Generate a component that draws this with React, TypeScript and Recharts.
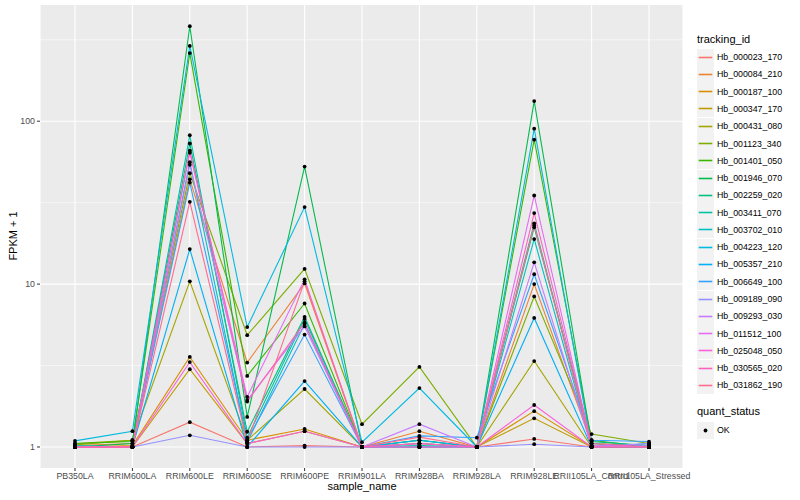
import { LineChart, Line, XAxis, YAxis, CartesianGrid } from "recharts";

const categories = [
  "PB350LA", "RRIM600LA", "RRIM600LE", "RRIM600SE", "RRIM600PE", "RRIM901LA",
  "RRIM928BA", "RRIM928LA", "RRIM928LE", "RRII105LA_Control", "RRII105LA_Stressed",
];

const trackingIds = [
  "Hb_000023_170", "Hb_000084_210", "Hb_000187_100", "Hb_000347_170", "Hb_000431_080",
  "Hb_001123_340", "Hb_001401_050", "Hb_001946_070", "Hb_002259_020", "Hb_003411_070",
  "Hb_003702_010", "Hb_004223_120", "Hb_005357_210", "Hb_006649_100", "Hb_009189_090",
  "Hb_009293_030", "Hb_011512_100", "Hb_025048_050", "Hb_030565_020", "Hb_031862_190",
];

const COLORS = [
  "#F8766D", "#EA8331", "#D89000", "#C09B00", "#A3A500", "#7CAE00", "#39B600",
  "#00BB4E", "#00BF7D", "#00C1A3", "#00BFC4", "#00BAE0", "#00B0F6", "#35A2FF",
  "#9590FF", "#C77CFF", "#E76BF3", "#FA62DB", "#FF62BC", "#FF6C91",
];

// FPKM + 1 per sample, same order as categories
const hb000023 = [1.0, 1.0, 1.42, 1.0, 1.02, 1.0, 1.05, 1.0, 1.12, 1.0, 1.0];
const hb000084 = [1.02, 1.05, 44, 3.3, 10.1, 1.0, 1.25, 1.0, 10, 1.05, 1.02];
const hb000187 = [1.0, 1.02, 3.57, 1.1, 1.29, 1.0, 1.0, 1.0, 1.66, 1.0, 1.0];
const hb000347 = [1.0, 1.0, 3.0, 1.05, 1.25, 1.0, 1.0, 1.0, 1.5, 1.0, 1.0];
const hb000431 = [1.03, 1.1, 10.4, 1.1, 2.27, 1.0, 1.0, 1.0, 3.37, 1.0, 1.0];
const hb001123 = [1.05, 1.1, 48, 4.86, 12.4, 1.38, 3.1, 1.0, 8.4, 1.2, 1.05];
const hb001401 = [1.05, 1.08, 262, 2.73, 7.6, 1.0, 1.1, 1.0, 77, 1.1, 1.0];
const hb001946 = [1.0, 1.05, 383, 1.53, 52.7, 1.0, 1.05, 1.0, 133, 1.05, 1.0];
const hb002259 = [1.0, 1.0, 73, 1.24, 6.3, 1.0, 1.1, 1.0, 22.3, 1.08, 1.02];
const hb003411 = [1.0, 1.0, 82, 1.14, 6.1, 1.0, 1.02, 1.0, 23.6, 1.02, 1.0];
const hb003702 = [1.02, 1.0, 56, 1.07, 5.7, 1.0, 1.0, 1.0, 18.9, 1.0, 1.0];
const hb004223 = [1.09, 1.25, 290, 5.45, 29.7, 1.07, 2.3, 1.0, 90, 1.0, 1.05];
const hb005357 = [1.0, 1.0, 16.4, 1.0, 2.54, 1.0, 1.1, 1.0, 6.2, 1.0, 1.0];
const hb006649 = [1.0, 1.0, 42, 1.1, 4.9, 1.0, 1.17, 1.14, 11.5, 1.1, 1.08];
const hb009189 = [1.0, 1.0, 1.18, 1.0, 1.0, 1.0, 1.0, 1.0, 1.04, 1.0, 1.02];
const hb009293 = [1.0, 1.0, 54, 1.94, 5.5, 1.0, 1.38, 1.0, 13.6, 1.0, 1.05];
const hb011512 = [1.0, 1.0, 64, 2.03, 10.7, 1.0, 1.05, 1.0, 35, 1.02, 1.0];
const hb025048 = [1.0, 1.0, 3.32, 1.05, 1.25, 1.0, 1.0, 1.0, 1.81, 1.0, 1.0];
const hb030565 = [1.0, 1.0, 66, 1.9, 5.8, 1.0, 1.05, 1.0, 27.3, 1.05, 1.0];
const hb031862 = [1.0, 1.0, 32, 1.07, 10.4, 1.0, 1.15, 1.0, 23, 1.0, 1.0];

const seriesValues = [
  hb000023, hb000084, hb000187, hb000347, hb000431, hb001123, hb001401,
  hb001946, hb002259, hb003411, hb003702, hb004223, hb005357, hb006649,
  hb009189, hb009293, hb011512, hb025048, hb030565, hb031862,
];

const yTicks = [1, 10, 100];
const yMinor = [3.1623, 31.623, 316.23];

const data = categories.map((c, i) => {
  const row: Record<string, number | string> = { sample: c };
  trackingIds.forEach((id, k) => {
    row[id] = seriesValues[k][i];
  });
  return row;
});

const FONT = '"Liberation Sans", Arial, Helvetica, sans-serif';
const tickStyle = { fontSize: 8.8, fill: "#4D4D4D", fontFamily: FONT };

export default function App() {
  return (
    <div style={{ position: "absolute", left: 0, top: 0, width: 800, height: 500, background: "#fff", fontFamily: FONT }}>
      <LineChart width={800} height={500} data={data} margin={{ top: 5, right: 117, left: 0, bottom: 0 }}>
        <CartesianGrid fill="#EBEBEB" stroke="#fff" strokeWidth={0.55} vertical={false} horizontalValues={yMinor} />
        <CartesianGrid stroke="#fff" strokeWidth={1.1} horizontalValues={yTicks} />
        <XAxis
          dataKey="sample"
          interval={0}
          padding={{ left: 35, right: 34 }}
          axisLine={false}
          tickSize={3}
          tickMargin={2}
          tickLine={{ stroke: "#333" }}
          tick={tickStyle}
          height={32}
        />
        <YAxis
          scale="log"
          domain={[0.743, 517]}
          allowDataOverflow
          ticks={yTicks}
          axisLine={false}
          tickSize={3}
          tickMargin={2}
          tickLine={{ stroke: "#333" }}
          tick={tickStyle}
          width={40}
        />
        {trackingIds.map((id, k) => (
          <Line
            key={id}
            dataKey={id}
            stroke={COLORS[k]}
            strokeWidth={1.1}
            dot={false}
            activeDot={false}
            isAnimationActive={false}
          />
        ))}
        {trackingIds.map((id) => (
          <Line
            key={id + "_pt"}
            dataKey={id}
            stroke="none"
            dot={{ r: 1.9, fill: "#000", stroke: "none" }}
            activeDot={false}
            isAnimationActive={false}
            legendType="none"
          />
        ))}
      </LineChart>

      <div style={{ position: "absolute", left: 0, top: 230, width: 26, fontSize: 11, color: "#000", transform: "rotate(-90deg)", transformOrigin: "13px 6px", whiteSpace: "nowrap", textAlign: "center" }}>
        <span style={{ position: "absolute", left: -20, width: 66, textAlign: "center" }}>FPKM + 1</span>
      </div>
      <div style={{ position: "absolute", left: 312, top: 480, width: 100, textAlign: "center", fontSize: 11, color: "#000" }}>
        sample_name
      </div>

      <div style={{ position: "absolute", left: 697, top: 33, fontSize: 11, color: "#000" }}>tracking_id</div>
      {trackingIds.map((id, k) => (
        <div key={id} style={{ position: "absolute", left: 697, top: 48.5 + k * 17.28, height: 17.28, display: "flex", alignItems: "center" }}>
          <svg width={17} height={17} style={{ display: "block" }}>
            <rect x={0} y={0} width={17} height={17} fill="#F2F2F2" />
            <line x1={1.7} x2={15.3} y1={8.5} y2={8.5} stroke={COLORS[k]} strokeWidth={1.6} />
          </svg>
          <span style={{ marginLeft: 3, fontSize: 8.8, color: "#000" }}>{id}</span>
        </div>
      ))}

      <div style={{ position: "absolute", left: 697, top: 405, fontSize: 11, color: "#000" }}>quant_status</div>
      <div style={{ position: "absolute", left: 697, top: 421.5, height: 17.28, display: "flex", alignItems: "center" }}>
        <svg width={17} height={17} style={{ display: "block" }}>
          <rect x={0} y={0} width={17} height={17} fill="#F2F2F2" />
          <circle cx={8.5} cy={8.5} r={1.9} fill="#000" />
        </svg>
        <span style={{ marginLeft: 3, fontSize: 8.8, color: "#000" }}>OK</span>
      </div>
    </div>
  );
}
